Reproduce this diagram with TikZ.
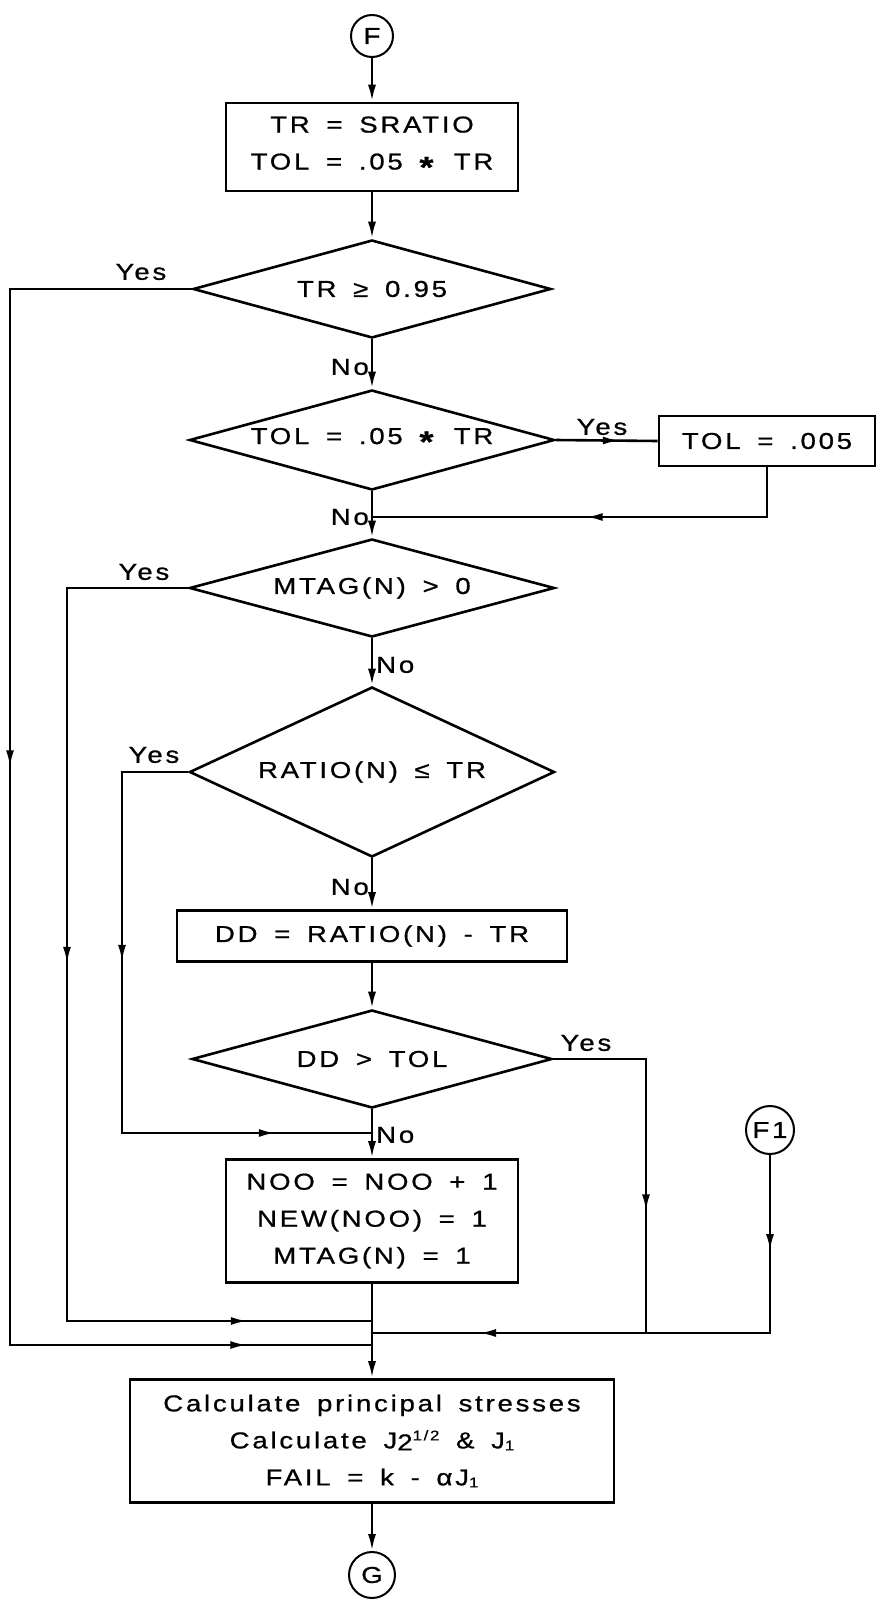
\documentclass[tikz,border=0pt]{standalone}
\usepackage{fontspec}
\setmainfont{Liberation Sans}[FakeStretch=1.2,LetterSpace=12,WordSpace=1.6,FakeBold=0.8]
\usetikzlibrary{shapes.geometric,arrows.meta,decorations.markings}
\newcommand\mainfnt{\fontsize{23}{37}\selectfont}
\newcommand\smallfnt{\fontsize{14}{14}\selectfont}
\newcommand\myast{\raisebox{-8pt}{\fontsize{30}{30}\selectfont\textbf{*}}}
\tikzset{
  flow/.style={line width=2.6pt},
  tip/.style={-{Latex[length=17pt,width=8pt]}},
  arr/.style={postaction={decorate,decoration={markings,mark=at position #1 with {\arrow{Latex[length=17pt,width=8pt]}}}}},
  box/.style={draw, line width=2.6pt, inner sep=0pt, align=center, font=\mainfnt},
  dec/.style={draw, diamond, line width=2.6pt, inner sep=0pt},
  conn/.style={draw, circle, line width=2pt, inner sep=0pt, font=\mainfnt},
  lbl/.style={font=\mainfnt, inner sep=0pt}
}
\begin{document}
\begin{tikzpicture}[x=1pt,y=-1pt]
\useasboundingbox (0,0) rectangle (877,1600);
% nodes
\node[conn, minimum size=42pt] (F) at (372,36) {F};
\node[box, minimum width=292pt, minimum height=88pt] (b1) at (372,147) {TR = SRATIO\\TOL = .05 \myast{} TR};
\node[dec, minimum width=358pt, minimum height=98pt] (d1) at (372,289) {};
\node[lbl] (t1) at (d1) {TR ≥ 0.95};
\node[dec, minimum width=365pt, minimum height=100pt] (d2) at (372,440) {};
\node[lbl] (t2) at (d2) {TOL = .05 \myast{} TR};
\node[box, minimum width=216pt, minimum height=50pt] (b2) at (767,441) {TOL = .005};
\node[dec, minimum width=365pt, minimum height=98pt] (d3) at (372,588) {};
\node[lbl] (t3) at (d3) {MTAG(N) > 0};
\node[dec, minimum width=365pt, minimum height=170pt] (d4) at (372,772) {};
\node[lbl] (t4) at (d4) {RATIO(N) ≤ TR};
\node[box, minimum width=390pt, minimum height=51pt] (b3) at (372,936) {DD = RATIO(N) - TR};
\node[dec, minimum width=360pt, minimum height=98pt] (d5) at (372,1059) {};
\node[lbl] (t5) at (d5) {DD > TOL};
\node[box, minimum width=292pt, minimum height=123pt] (b4) at (372,1221) {NOO = NOO + 1\\NEW(NOO) = 1\\MTAG(N) = 1};
\node[conn, minimum size=48pt] (F1) at (770,1130) {F1};
\node[box, minimum width=484pt, minimum height=123pt] (b5) at (372,1441) {Calculate principal stresses\\Calculate J\raisebox{-2pt}{2}\raisebox{8pt}{\smallfnt 1/2} \& J\raisebox{-2pt}{\smallfnt 1}\\FAIL = k - αJ\raisebox{-2pt}{\smallfnt 1}};
\node[conn, minimum size=46pt] (G) at (372,1575) {G};
% junction coordinates
\coordinate (j1) at (372,517);
\coordinate (j2) at (372,1133);
\coordinate (ja) at (372,1321);
\coordinate (jb) at (372,1333);
\coordinate (jc) at (372,1345);
\coordinate (m) at (646,1333);
% main flow
\draw[flow, tip] (F) -- (b1);
\draw[flow, tip] (b1) -- (d1);
\draw[flow, tip] (d1) -- (d2);
\draw[flow, tip] (d2) -- (d3);
\draw[flow, tip] (d3) -- (d4);
\draw[flow, tip] (d4) -- (b3);
\draw[flow, tip] (b3) -- (d5);
\draw[flow, tip] (d5) -- (b4);
\draw[flow, tip] (b4) -- (b5);
\draw[flow, tip] (b5) -- (G);
% side branches
\draw[flow, arr=64pt] (d2.east) -- (b2.west);
\draw[flow, arr=231pt] (b2.south) |- (j1);
\draw[flow, arr=660pt, arr=1475pt] (d1.west) -| (10,1345) -- (jc);
\draw[flow, arr=497pt, arr=1035pt] (d3.west) -| (67,1321) -- (ja);
\draw[flow, arr=256pt, arr=581pt] (d4.west) -| (122,1133) -- (j2);
\draw[flow, arr=245pt] (d5.east) -| (m);
\draw[flow, arr=96pt, arr=469pt] (F1.south) |- (jb);
% labels
\node[lbl] (y1) at (141,272) {Yes};
\node[lbl, anchor=east] (n1) at (369,367) {No};
\node[lbl] (y2) at (602,427) {Yes};
\node[lbl, anchor=east] (n2) at (369,517) {No};
\node[lbl] (y3) at (144,572) {Yes};
\node[lbl, anchor=west] (n3) at (376,665) {No};
\node[lbl] (y4) at (154,755) {Yes};
\node[lbl, anchor=east] (n4) at (369,887) {No};
\node[lbl] (y5) at (586,1043) {Yes};
\node[lbl, anchor=west] (n5) at (376,1135) {No};
\end{tikzpicture}
\end{document}
